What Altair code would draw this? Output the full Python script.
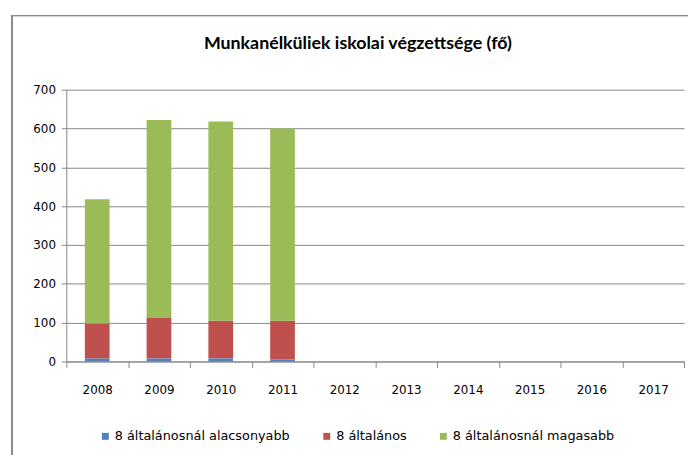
import altair as alt
import pandas as pd

years = ["2008", "2009", "2010", "2011", "2012", "2013", "2014", "2015", "2016", "2017"]
series = ["8 általánosnál alacsonyabb", "8 általános", "8 általánosnál magasabb"]
colors = ["#4F81BD", "#C0504D", "#9BBB59"]
low = [8, 8, 8, 5]
mid = [90, 104, 97, 100]
high = [320, 510, 513, 495]
title_text = "Munkanélküliek iskolai végzettsége (fő)"

rows = []
for vals, s, k in [(low, series[0], 0), (mid, series[1], 1), (high, series[2], 2)]:
    for y, v in zip(years, vals):
        rows.append({"year": y, "series": s, "value": v, "k": k})
df = pd.DataFrame(rows)

FONT = "DejaVu Sans"

bars = alt.Chart(df).mark_bar(size=25).encode(
    x=alt.X("year:N", scale=alt.Scale(domain=years, paddingInner=0, paddingOuter=0),
            axis=alt.Axis(title=None, labelAngle=0, tickBand="extent", tickSize=6,
                          labelPadding=17, domainColor="#868686", tickColor="#868686",
                          labelFont=FONT, labelFontSize=12, labelColor="#000000", grid=False)),
    y=alt.Y("value:Q", stack="zero", scale=alt.Scale(domain=[0, 700], nice=False),
            axis=alt.Axis(title=None, values=[0, 100, 200, 300, 400, 500, 600, 700],
                          tickSize=5, labelPadding=6, domainColor="#868686", tickColor="#868686",
                          gridColor="#868686", gridWidth=1, labelFont=FONT, labelFontSize=12,
                          labelColor="#000000")),
    color=alt.Color("series:N", scale=alt.Scale(domain=series, range=colors),
                    legend=alt.Legend(title=None, orient="none", direction="horizontal",
                                      legendX=33, legendY=344, symbolType="square",
                                      symbolSize=49, symbolStrokeWidth=0, labelFont=FONT,
                                      labelFontSize=13, labelColor="#000000", columnPadding=30,
                                      labelOffset=3, labelLimit=0)),
    order=alt.Order("k:Q"),
)

frame = alt.Chart(df).mark_rect(fill=None, stroke="#8a8a8a", strokeWidth=1).encode(
    x=alt.value(-55), x2=alt.value(700), y=alt.value(-75), y2=alt.value(420)
)

title = alt.Chart(pd.DataFrame({"t": [title_text]})).mark_text(
    font="Lato", fontSize=18, fontWeight="bold", color="#000000", align="center",
    baseline="middle"
).encode(text="t:N", x=alt.value(295), y=alt.value(-46))

chart = alt.layer(frame, bars, title).properties(
    width=625, height=275,
    autosize=alt.AutoSizeParams(type="none"),
    padding={"left": 59, "top": 80, "right": 4, "bottom": 92},
).configure_view(stroke=None)

chart.save("out.html", embed_options={"renderer": "svg", "actions": False})
